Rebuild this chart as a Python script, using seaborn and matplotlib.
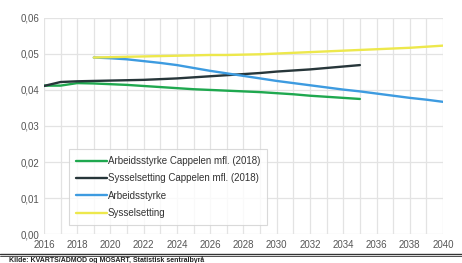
import matplotlib
matplotlib.use("Agg")
import matplotlib.pyplot as plt
import seaborn as sns
import pandas as pd
import numpy as np

years_cap = list(range(2016, 2036))
arb_cap = [0.0412, 0.0412, 0.0419, 0.0418, 0.0416, 0.0414, 0.0411, 0.0408, 0.0405, 0.0402,
           0.0400, 0.0398, 0.0396, 0.0394, 0.0391, 0.0388, 0.0384, 0.0381, 0.0378, 0.0375]
sys_cap = [0.0411, 0.0422, 0.0424, 0.0425, 0.0426, 0.0427, 0.0428, 0.0430, 0.0432, 0.0435,
           0.0438, 0.0441, 0.0444, 0.0447, 0.0451, 0.0454, 0.0457, 0.0461, 0.0465, 0.0469]
years_new = list(range(2019, 2041))
arb = [0.0490, 0.0488, 0.0485, 0.0480, 0.0475, 0.0469, 0.0461, 0.0453, 0.0446, 0.0439, 0.0432,
       0.0425, 0.0419, 0.0413, 0.0407, 0.0401, 0.0396, 0.0390, 0.0384, 0.0378, 0.0373, 0.0367]
sys_ = [0.0490, 0.0491, 0.0492, 0.0493, 0.0494, 0.0495, 0.0496, 0.0497, 0.0497, 0.0498, 0.0499,
        0.0501, 0.0503, 0.0505, 0.0507, 0.0509, 0.0511, 0.0513, 0.0515, 0.0517, 0.0520, 0.0523]

names = ["Arbeidsstyrke Cappelen mfl. (2018)", "Sysselsetting Cappelen mfl. (2018)",
         "Arbeidsstyrke", "Sysselsetting"]
colors = ["#1fa84f", "#27363a", "#3d9be0", "#ede84c"]

frames = [
    pd.DataFrame({"year": years_cap, "value": arb_cap, "series": names[0]}),
    pd.DataFrame({"year": years_cap, "value": sys_cap, "series": names[1]}),
    pd.DataFrame({"year": years_new, "value": arb, "series": names[2]}),
    pd.DataFrame({"year": years_new, "value": sys_, "series": names[3]}),
]
df = pd.concat(frames, ignore_index=True)

sns.set_style("white")
plt.rcParams['font.family'] = ['Liberation Sans', 'DejaVu Sans']

fig = plt.figure(figsize=(4.62, 2.63), dpi=100)
ax = fig.add_axes([0.095, 0.110, 0.864, 0.822])

sns.lineplot(data=df, x="year", y="value", hue="series", hue_order=names,
             palette=dict(zip(names, colors)), linewidth=1.7, ax=ax, legend=True)

ax.set_xlim(2016, 2040)
ax.set_ylim(0, 0.06)
ax.set_xticks(range(2016, 2041, 2))
ax.set_xticks(range(2016, 2041, 1), minor=True)
ax.set_yticks(np.arange(0, 0.061, 0.01))
ax.set_yticklabels([f"{v:.2f}".replace(".", ",") for v in np.arange(0, 0.061, 0.01)])
ax.grid(True, which="both", axis="x", color="#e3e3e3", linewidth=0.9)
ax.grid(True, which="major", axis="y", color="#e3e3e3", linewidth=0.9)
ax.set_axisbelow(True)
for s in ax.spines.values():
    s.set_visible(False)
ax.tick_params(axis="both", which="both", length=0, labelsize=7, colors="#555555")
ax.tick_params(axis="y", pad=3)
ax.tick_params(axis="x", pad=4)
ax.set_xlabel("")
ax.set_ylabel("")

leg = ax.legend(loc="lower left", bbox_to_anchor=(0.05, 0.02), fontsize=7, frameon=True,
                fancybox=False, edgecolor="#d0d0d0", handlelength=3.2, handletextpad=0.1,
                labelspacing=0.75, borderpad=0.7)
leg.get_frame().set_linewidth(0.8)
for t in leg.get_texts():
    t.set_color("#333333")

fig.add_artist(plt.Line2D([0.0, 1.0], [0.035, 0.035], color="#333333", linewidth=1.0))
fig.add_artist(plt.Line2D([0.0, 1.0], [0.027, 0.027], color="#333333", linewidth=0.6))
fig.text(0.02, -0.005, "Kilde: KVARTS/ADMOD og MOSART, Statistisk sentralbyrå",
         fontsize=5, fontweight="bold", color="#222222", va="bottom")

fig.savefig("out.png", dpi=100)
